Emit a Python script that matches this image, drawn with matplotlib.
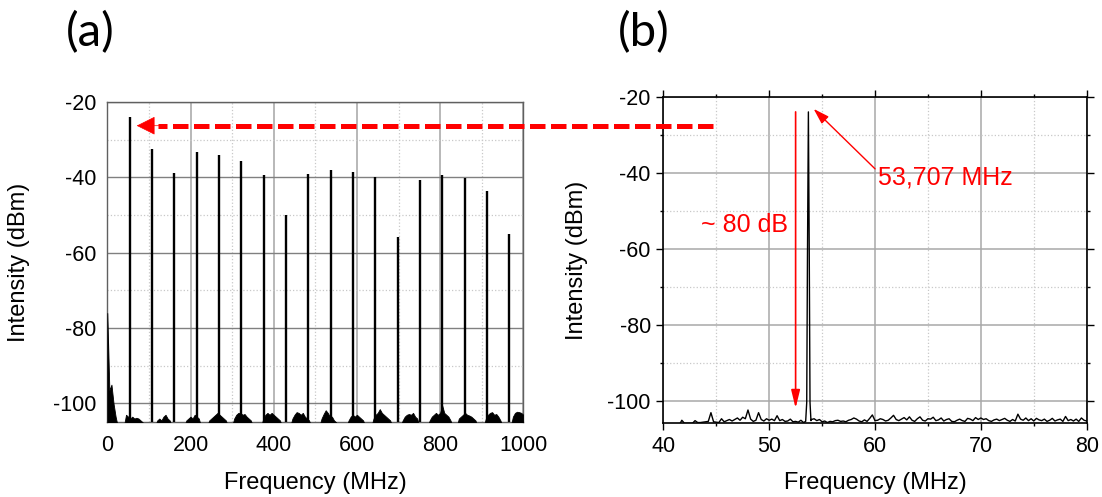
#!/usr/bin/env python
"""RF spectrum of the pulse train: (a) wide span, (b) zoom on the fundamental."""
import numpy as np
import matplotlib
matplotlib.use('Agg')
import matplotlib.pyplot as plt
from matplotlib.lines import Line2D
from matplotlib.patches import FancyArrowPatch

plt.rcParams['font.family'] = ['Liberation Sans', 'DejaVu Sans']
plt.rcParams['axes.unicode_minus'] = False

RED = '#ff0000'

# -----------------------------------------------------------------------------
# Data, panel (a): harmonics of the repetition rate (MHz, dBm)
peak_freq_a = [53.7, 107.4, 161.1, 214.8, 268.5, 322.2, 375.9, 429.7, 483.4,
               537.1, 590.8, 644.5, 698.2, 751.9, 805.6, 859.3, 913.0, 966.7]
peak_db_a = [-24.0, -32.4, -38.8, -33.2, -34.1, -35.6, -39.3, -50.1, -39.0,
             -38.1, -38.6, -39.9, -55.9, -40.7, -39.3, -40.1, -43.5, -55.0]

# noise floor on a 5 MHz grid, 0 ... 1000 MHz (one row = 100 MHz)
noise_db_a = [
    -76.0, -96.5, -95.0, -100.0, -103.5, -106, -106, -106, -106, -103.0,
    -103.5, -104.0, -103.5, -104.0, -103.8, -104.0, -104.5, -105.0, -106, -106,
    -106, -106, -106, -106, -104.5, -104.0, -104.5, -103.5, -103.0, -104.0,
    -104.5, -106, -106, -106, -106, -106, -106, -106, -104.5, -104.0,
    -103.5, -104.0, -103.0, -103.5, -104.0, -106, -106, -106, -106, -104.5,
    -104.0, -103.5, -103.0, -102.5, -103.0, -103.5, -104.0, -104.5, -106, -106,
    -106, -104.0, -103.0, -102.5, -102.5, -103.0, -102.8, -103.5, -104.0, -104.5,
    -106, -106, -106, -106, -106, -104.0, -103.0, -102.5, -103.0, -102.5,
    -103.0, -103.5, -104.0, -104.5, -106, -106, -106, -106, -106, -104.0,
    -103.0, -102.3, -102.5, -103.0, -102.5, -103.5, -104.0, -104.5, -106, -106,
    -106, -106, -106, -104.0, -102.8, -101.8, -102.5, -103.5, -103.5, -104.5,
    -105.0, -106, -106, -106, -106, -106, -104.5, -103.5, -103.0, -103.5,
    -103.0, -103.5, -104.0, -104.5, -106, -106, -106, -106, -104.0, -103.0,
    -102.5, -101.5, -102.5, -103.0, -103.5, -104.0, -104.5, -106, -106, -106,
    -106, -106, -104.5, -103.5, -103.0, -102.8, -103.0, -102.5, -103.5, -104.0,
    -106, -106, -106, -106, -106, -104.5, -103.5, -103.0, -102.5, -103.0,
    -102.5, -100.5, -102.5, -103.0, -103.5, -104.5, -106, -106, -106, -104.0,
    -103.5, -103.0, -102.5, -103.0, -103.2, -103.5, -104.0, -104.5, -106, -106,
    -106, -106, -104.0, -103.0, -102.5, -102.3, -103.0, -102.8, -103.5, -104.5,
    -106, -106, -106, -106, -106, -103.5, -102.5, -102.2, -102.3, -102.5,
    -103.0,
]

# Data, panel (b): fundamental at 53.707 MHz
peak_freq_b = [53.45, 53.55, 53.62, 53.707, 53.79, 53.86, 53.95]
peak_db_b = [-105.5, -100.5, -62.0, -24.0, -62.0, -100.5, -105.3]

# noise floor on a 0.25 MHz grid, 40 ... 80 MHz (one row = 5 MHz)
noise_db_b = [
    -106.5, -106.5, -106.5, -106.5, -106.5, -106.5, -106.5, -105.2, -106.0, -106.0,
    -106.0, -106.0, -105.3, -105.8, -105.8, -105.7, -105.6, -105.5, -103.2, -105.6,
    -105.7, -105.8, -104.8, -105.6, -105.3, -105.0, -105.4, -105.0, -104.6, -105.2,
    -104.4, -104.8, -102.5, -104.9, -105.5, -105.2, -103.2, -105.0, -105.4, -104.8,
    -105.2, -104.9, -105.3, -104.0, -105.3, -105.0, -105.5, -105.4, -104.9, -105.6,
    -105.5, -105.7, -105.2, -105.8, -105.5, -105.5, -105.0, -104.8, -105.3, -105.0,
    -105.6, -105.4, -105.8, -105.5, -105.6, -105.3, -105.2, -105.5, -105.4, -105.6,
    -105.2, -105.0, -104.6, -104.9, -105.4, -105.6, -105.1, -105.5, -104.7, -103.8,
    -105.3, -105.2, -104.8, -105.0, -105.4, -105.2, -104.6, -103.9, -105.0, -105.3,
    -104.9, -104.5, -105.1, -104.3, -105.2, -105.5, -104.8, -104.3, -105.2, -105.4,
    -104.8, -104.9, -104.4, -105.3, -105.1, -104.6, -105.4, -105.0, -104.8, -105.5,
    -105.6, -105.2, -104.9, -105.3, -105.5, -104.7, -104.9, -105.3, -104.5, -105.0,
    -104.6, -105.0, -104.8, -105.3, -105.5, -105.1, -104.9, -105.3, -105.0, -104.7,
    -105.2, -105.5, -105.0, -105.4, -103.6, -104.9, -105.2, -104.6, -105.3, -104.8,
    -105.4, -104.7, -105.1, -105.3, -104.9, -105.5, -105.2, -104.7, -105.4, -105.1,
    -104.9, -105.5, -104.2, -105.3, -105.0, -105.4, -104.9, -105.5, -104.6, -105.2,
    -105.4,
]

# -----------------------------------------------------------------------------
# Assemble traces

freq_a = np.linspace(0, 1000, len(noise_db_a))
noise_a = np.array(noise_db_a)

grid_b = np.linspace(40, 80, len(noise_db_b))
noise_b = np.array(noise_db_b)
keep = (grid_b < peak_freq_b[0]) | (grid_b > peak_freq_b[-1])
freq_b = np.concatenate([grid_b[keep], peak_freq_b])
db_b = np.concatenate([noise_b[keep], peak_db_b])
order = np.argsort(freq_b)
freq_b, db_b = freq_b[order], db_b[order]

# -----------------------------------------------------------------------------
# Plotting

W, H = 1102, 497
fig = plt.figure(figsize=(W / 100, H / 100), dpi=100)

ax_a = fig.add_axes([107.3 / W, 1 - 422.3 / H, 416 / W, 320.3 / H])
ax_b = fig.add_axes([663.3 / W, 1 - 423.3 / H, 423.4 / W, 326.6 / H])

fs_tick = 15.5
fs_label = 17

# ---- panel (a)
ax_a.fill_between(freq_a, -110, noise_a, color='black', lw=0.6, zorder=3)
ax_a.vlines(peak_freq_a, -110, peak_db_a, color='black', lw=1.7, zorder=3)
ax_a.set_xlim(0, 1000)
ax_a.set_ylim(-105, -20)
ax_a.set_xticks(np.arange(0, 1001, 200))
ax_a.set_xticks(np.arange(100, 1000, 200), minor=True)
ax_a.set_yticks(np.arange(-100, -19, 20))
ax_a.set_yticks(np.arange(-90, -29, 20), minor=True)
ax_a.grid(True, which='minor', color='#c8c8c8', ls=':', lw=0.9)
ax_a.yaxis.grid(True, which='major', color='#808080', lw=1.0)
ax_a.xaxis.grid(True, which='major', color='#b8b8b8', lw=1.4)
ax_a.set_axisbelow(True)
ax_a.tick_params(which='both', length=0, labelsize=fs_tick)
ax_a.tick_params(axis='y', pad=8)
ax_a.tick_params(axis='x', pad=9)
for sp in ax_a.spines.values():
    sp.set_color('#606060')
    sp.set_linewidth(1.0)
ax_a.set_xlabel('Frequency (MHz)', fontsize=fs_label, va='top')
ax_a.set_ylabel('Intensity (dBm)', fontsize=fs_label)
ax_a.xaxis.set_label_coords(0.5, -0.155)
ax_a.yaxis.set_label_coords(-0.185, 0.5)

# ---- panel (b)
ax_b.plot(freq_b, db_b, color='black', lw=1.0, zorder=3)
ax_b.set_xlim(40, 80)
ax_b.set_ylim(-106, -20)
ax_b.set_xticks(np.arange(40, 81, 10))
ax_b.set_xticks(np.arange(45, 80, 10), minor=True)
ax_b.set_yticks(np.arange(-100, -19, 20))
ax_b.set_yticks(np.arange(-90, -29, 20), minor=True)
ax_b.grid(True, which='major', color='#a8a8a8', lw=1.1)
ax_b.grid(True, which='minor', color='#c8c8c8', ls=':', lw=0.9)
ax_b.set_axisbelow(True)
ax_b.tick_params(which='both', direction='out', top=True, right=True,
                 labelsize=fs_tick, width=1.0, color='black')
ax_b.tick_params(which='major', length=5, pad=4)
ax_b.tick_params(which='minor', length=2.5)
for sp in ax_b.spines.values():
    sp.set_color('black')
    sp.set_linewidth(1.2)
ax_b.set_xlabel('Frequency (MHz)', fontsize=fs_label, va='top')
ax_b.set_ylabel('Intensity (dBm)', fontsize=fs_label)
ax_b.xaxis.set_label_coords(0.5, -0.149)
ax_b.yaxis.set_label_coords(-0.178, 0.5)

# annotations in (b)
ax_b.annotate('', xy=(52.5, -102.0), xytext=(52.5, -24.0),
              arrowprops=dict(arrowstyle='-|>,head_length=0.9,head_width=0.22',
                              color=RED, lw=1.2, shrinkA=0, shrinkB=0,
                              mutation_scale=12), zorder=5)
ax_b.text(51.78, -53.9, '~ 80 dB', color=RED, fontsize=18,
          ha='right', va='center', zorder=5)
ax_b.annotate('53,707 MHz', xy=(54.2, -23.2), xytext=(60.27, -41.3),
              color=RED, fontsize=18, ha='left', va='center',
              arrowprops=dict(arrowstyle='-|>,head_length=0.8,head_width=0.25',
                              color=RED, lw=1.0, shrinkA=0, shrinkB=0,
                              mutation_scale=12, relpos=(0.0, 0.75)),
              zorder=5)

# dashed red arrow connecting the fundamental in (b) with (a)
y_arrow = 1 - 125.7 / H
fig.add_artist(Line2D([713 / W, 158 / W], [y_arrow, y_arrow],
                      transform=fig.transFigure, color=RED, lw=3.6,
                      ls=(0, (3.1, 1.1)), solid_capstyle='butt',
                      dash_capstyle='butt', zorder=10))
fig.add_artist(FancyArrowPatch((160 / W, y_arrow), (136.7 / W, y_arrow),
                               transform=fig.transFigure,
                               arrowstyle='-|>,head_length=1.0,head_width=0.5',
                               mutation_scale=12, color=RED, lw=0.5,
                               shrinkA=0, shrinkB=0, zorder=10))

# panel labels
fig.text(66 / W, 1 - 33 / H, '(a)', fontsize=34, family=['Lato', 'DejaVu Sans'],
         ha='left', va='center')
fig.text(618 / W, 1 - 33 / H, '(b)', fontsize=34, family=['Lato', 'DejaVu Sans'],
         ha='left', va='center')

fig.savefig('out.png', dpi=100)
